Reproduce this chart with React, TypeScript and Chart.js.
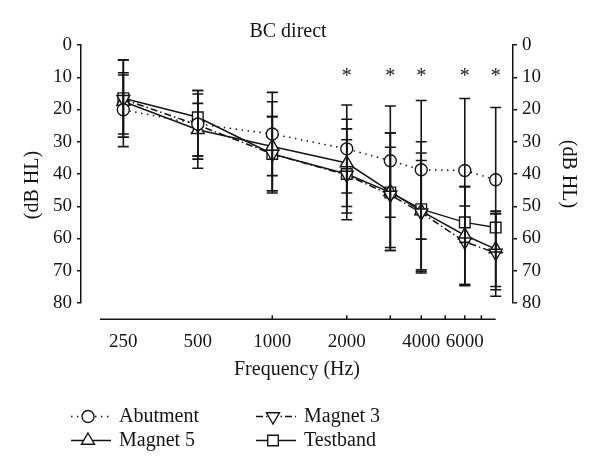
import React, { useEffect, useRef } from "react";
import { Chart, registerables } from "chart.js";

Chart.register(...registerables);

// ---- data ----
const FREQS = [250, 500, 1000, 2000, 3000, 4000, 6000, 8000];
const SERIES_NAMES = ["Abutment", "Magnet 3", "Magnet 5", "Testband"];

const ABUTMENT = [20.1, 24.5, 27.6, 32.2, 35.9, 38.7, 38.9, 41.8];
const MAGNET3 = [16.8, 24.8, 33.8, 40.3, 46.5, 52.0, 61.0, 64.5];
const MAGNET5 = [17.5, 26.3, 31.5, 36.6, 45.5, 51.5, 59.0, 63.3];
const TESTBAND = [16.5, 22.4, 33.8, 40.0, 45.7, 50.9, 55.0, 56.6];

// error bar extents (upper end = smaller dB value, lower end = larger dB value)
const ABUTMENT_LO = [8.6, 14.1, 14.7, 18.6, 18.9, 17.2, 16.6, 19.4];
const ABUTMENT_HI = [31.5, 35.4, 40.5, 45.9, 53.4, 60.2, 61.2, 64.2];
const MAGNET3_LO = [4.6, 15.2, 22.2, 26.0, 31.7, 35.8, 49.9, 51.5];
const MAGNET3_HI = [28.6, 38.2, 45.9, 54.2, 62.8, 69.7, 74.3, 77.9];
const MAGNET5_LO = [9.3, 18.1, 17.6, 23.0, 27.3, 33.5, 43.9, 52.3];
const MAGNET5_HI = [27.6, 34.4, 45.2, 50.1, 63.7, 70.2, 74.3, 75.9];
const TESTBAND_LO = [4.6, 14.1, 22.2, 29.4, 27.3, 30.0, 43.9, 52.3];
const TESTBAND_HI = [28.6, 34.4, 45.2, 52.1, 63.7, 70.7, 74.6, 74.9];

const X_TICK_LABELS = [250, 500, 1000, 2000, 4000, 6000];
const X_MINOR_TICKS = [1000, 2000, 3000, 4000, 5000, 6000, 7000];
const Y_TICKS = [0, 10, 20, 30, 40, 50, 60, 70, 80];
const STAR_FREQS = [2000, 3000, 4000, 6000, 8000];
const STAR_LEVEL = 8.8;

const X_MIN = 168.6;
const X_MAX = 9397;
const X_AXIS_FROM = 201;
const X_AXIS_TO = 8000;
const X_AXIS_LEVEL = 85;

const TITLE = "BC direct";
const X_TITLE = "Frequency (Hz)";
const Y_TITLE = "(dB HL)";

const FONT = "'Liberation Serif', 'Times New Roman', serif";
const INK = "#151515";

type Style = { pointStyle: string; radius: number; rotation: number; dash: number[] };
const STYLES: Style[] = [
  { pointStyle: "circle", radius: 6, rotation: 0, dash: [1.5, 4.5] },
  { pointStyle: "triangle", radius: 7.5, rotation: 180, dash: [7, 3, 1.5, 3] },
  { pointStyle: "triangle", radius: 7.5, rotation: 0, dash: [] },
  { pointStyle: "rect", radius: 7.5, rotation: 0, dash: [] },
];

function drawMarker(ctx: CanvasRenderingContext2D, s: Style, x: number, y: number) {
  ctx.save();
  ctx.setLineDash([]);
  ctx.fillStyle = "#fff";
  ctx.strokeStyle = INK;
  ctx.lineWidth = 1.4;
  ctx.beginPath();
  const r = s.radius;
  if (s.pointStyle === "circle") {
    ctx.arc(x, y, r, 0, Math.PI * 2);
  } else if (s.pointStyle === "rect") {
    const h = r * Math.SQRT1_2;
    ctx.rect(x - h, y - h, 2 * h, 2 * h);
  } else {
    let rad = (s.rotation * Math.PI) / 180;
    for (let k = 0; k < 3; k++) {
      const px = x + Math.sin(rad) * r;
      const py = y - Math.cos(rad) * r;
      if (k === 0) ctx.moveTo(px, py);
      else ctx.lineTo(px, py);
      rad += (2 * Math.PI) / 3;
    }
    ctx.closePath();
  }
  ctx.fill();
  ctx.stroke();
  ctx.restore();
}

export default function App() {
  const ref = useRef<HTMLCanvasElement>(null);

  useEffect(() => {
    const canvas = ref.current;
    if (!canvas) return;
    const means = [ABUTMENT, MAGNET3, MAGNET5, TESTBAND];
    const lows = [ABUTMENT_LO, MAGNET3_LO, MAGNET5_LO, TESTBAND_LO];
    const highs = [ABUTMENT_HI, MAGNET3_HI, MAGNET5_HI, TESTBAND_HI];

    const datasets = means.map((m, i) => ({
      label: SERIES_NAMES[i],
      data: FREQS.map((f, j) => ({ x: f, y: m[j] })),
      borderColor: INK,
      borderWidth: 1.5,
      borderDash: STYLES[i].dash,
      pointStyle: STYLES[i].pointStyle,
      pointRadius: STYLES[i].radius,
      pointRotation: STYLES[i].rotation,
      pointBackgroundColor: "#fff",
      pointBorderColor: INK,
      pointBorderWidth: 1.4,
      fill: false,
      tension: 0,
      yAxisID: "y",
    }));

    const overlay = {
      id: "overlay",
      beforeDraw(chart: any) {
        const { ctx, width, height } = chart;
        ctx.save();
        ctx.fillStyle = "#fff";
        ctx.fillRect(0, 0, width, height);
        ctx.restore();
      },
      afterDatasetsDraw(chart: any) {
        const { ctx } = chart;
        const xs = chart.scales.x;
        const ys = chart.scales.y;
        ctx.save();
        ctx.setLineDash([]);
        ctx.strokeStyle = INK;
        // error bars
        ctx.lineWidth = 1.6;
        const CAP = 5.5;
        lows.forEach((lo, i) => {
          FREQS.forEach((f, j) => {
            const x = xs.getPixelForValue(f);
            const y1 = ys.getPixelForValue(lo[j]);
            const y2 = ys.getPixelForValue(highs[i][j]);
            ctx.beginPath();
            ctx.moveTo(x, y1);
            ctx.lineTo(x, y2);
            ctx.moveTo(x - CAP, y1);
            ctx.lineTo(x + CAP, y1);
            ctx.moveTo(x - CAP, y2);
            ctx.lineTo(x + CAP, y2);
            ctx.stroke();
          });
        });
        // detached x axis line with upward ticks
        const ay = ys.getPixelForValue(X_AXIS_LEVEL);
        ctx.lineWidth = 1.5;
        ctx.beginPath();
        ctx.moveTo(xs.getPixelForValue(X_AXIS_FROM), ay);
        ctx.lineTo(xs.getPixelForValue(X_AXIS_TO), ay);
        X_MINOR_TICKS.forEach((f) => {
          const x = xs.getPixelForValue(f);
          ctx.moveTo(x, ay);
          ctx.lineTo(x, ay - 4);
        });
        ctx.stroke();
        // significance stars
        ctx.fillStyle = INK;
        ctx.font = `20px ${FONT}`;
        ctx.textAlign = "center";
        ctx.textBaseline = "alphabetic";
        STAR_FREQS.forEach((f) => {
          ctx.fillText("*", xs.getPixelForValue(f), ys.getPixelForValue(STAR_LEVEL) + 8.5);
        });
        // title
        ctx.fillText(TITLE, 288, 36.5);
        // left axis title (slightly below centre, as in the original)
        ctx.save();
        ctx.translate(33, 185);
        ctx.rotate(-Math.PI / 2);
        ctx.textBaseline = "middle";
        ctx.fillText(Y_TITLE, 0, 0);
        ctx.restore();
        // legend
        const cols = [71, 256];
        const rows = [416.5, 440.5];
        SERIES_NAMES.forEach((name, i) => {
          const cx = cols[i % 2];
          const cy = rows[Math.floor(i / 2)];
          ctx.save();
          ctx.strokeStyle = INK;
          ctx.lineWidth = 1.4;
          ctx.setLineDash(STYLES[i].dash);
          ctx.beginPath();
          ctx.moveTo(cx, cy);
          ctx.lineTo(cx + 40, cy);
          ctx.stroke();
          ctx.restore();
          drawMarker(ctx, STYLES[i], cx + 17, cy);
          ctx.fillStyle = INK;
          ctx.textAlign = "left";
          ctx.textBaseline = "middle";
          ctx.fillText(name, cx + 48, cy);
        });
        ctx.restore();
      },
    };

    const yCommon = (position: string, showTitle: boolean, titlePad: number, width: number) => ({
      type: "linear",
      position,
      reverse: true,
      min: 0,
      max: 80,
      afterBuildTicks: (s: any) => {
        s.ticks = Y_TICKS.map((v) => ({ value: v }));
      },
      afterFit: (s: any) => {
        s.width = width;
      },
      border: { display: true, color: INK, width: 1.5 },
      grid: {
        drawOnChartArea: false,
        drawTicks: true,
        tickLength: 4,
        tickColor: INK,
        tickWidth: 1.5,
        lineWidth: 1.5,
        color: INK,
      },
      ticks: {
        color: INK,
        padding: 5,
        font: { family: FONT, size: 19 },
      },
      title: {
        display: showTitle,
        text: Y_TITLE,
        color: INK,
        font: { family: FONT, size: 20 },
        padding: { top: titlePad, bottom: 0 },
      },
    });

    const chart = new Chart(canvas, {
      type: "line",
      data: { datasets: datasets as any },
      plugins: [overlay],
      options: {
        animation: false,
        responsive: false,
        devicePixelRatio: 1,
        layout: { padding: { top: 45, left: 0, right: 0, bottom: 0 } },
        plugins: { legend: { display: false }, tooltip: { enabled: false }, title: { display: false } },
        scales: {
          x: {
            type: "logarithmic",
            min: X_MIN,
            max: X_MAX,
            afterBuildTicks: (s: any) => {
              s.ticks = X_TICK_LABELS.map((v) => ({ value: v }));
            },
            afterFit: (s: any) => {
              s.height = 173;
            },
            border: { display: false },
            grid: { display: false, drawTicks: false },
            ticks: {
              color: INK,
              padding: 28,
              autoSkip: false,
              maxRotation: 0,
              font: { family: FONT, size: 19 },
              callback: (v: any) => String(v),
            },
            title: {
              display: true,
              text: X_TITLE,
              color: INK,
              font: { family: FONT, size: 20 },
              padding: { top: 0, bottom: 94 },
            },
          },
          y: yCommon("left", false, 21, 81) as any,
          y2: yCommon("right", true, 20, 87) as any,
        },
      } as any,
    });
    return () => chart.destroy();
  }, []);

  return (
    <div style={{ position: "absolute", left: 0, top: 0, width: 600, height: 476, background: "#fff" }}>
      <canvas ref={ref} width={600} height={476} style={{ display: "block" }} />
    </div>
  );
}
